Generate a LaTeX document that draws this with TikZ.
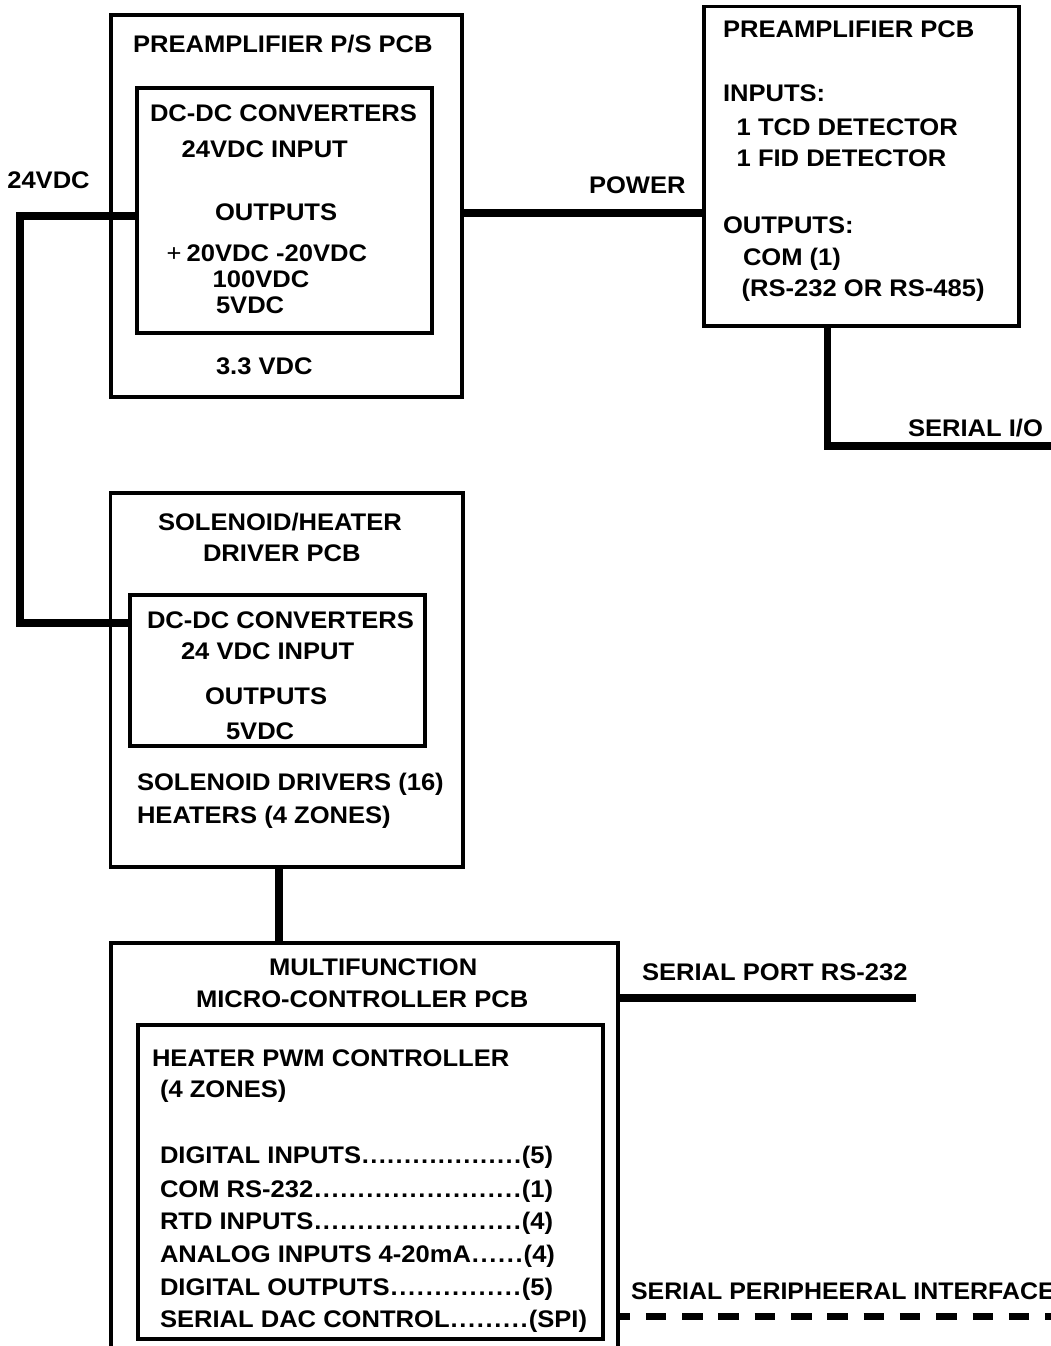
\documentclass[tikz,border=0pt]{standalone}
\usepackage{graphicx}
\usepackage{fontspec}
\setmainfont{Liberation Sans}[FakeStretch=1.065]
\newcommand\fs{\fontsize{24}{28}\selectfont\bfseries}
\newcommand\dotlead{\xleaders\hbox to 8.4pt{\hss.\hss}\hfill}
\tikzset{
  lbl/.style={anchor=base west, inner sep=0pt, outer sep=0pt, font=\fs},
  pcb/.style={draw, line width=3.2pt, inner sep=0pt, outer sep=0pt},
  wire/.style={line width=7.5pt, line join=miter, line cap=butt},
  dashwire/.style={line width=7pt, line cap=butt, dash pattern=on 20.5pt off 15.8pt, dash phase=8.5pt}
}
\begin{document}
\begin{tikzpicture}[x=1pt,y=-1pt]
\useasboundingbox (0,0) rectangle (1051,1346);
% boxes
\node[pcb, minimum width=351pt, minimum height=382pt] (ps) at (286.5,206) {};
\node[pcb, minimum width=295pt, minimum height=245pt] (psin) at (284.5,210.5) {};
\node[pcb, minimum width=315pt, minimum height=319.5pt] (pre) at (861.5,166.25) {};
\node[pcb, minimum width=352.5pt, minimum height=374pt] (sol) at (286.75,680) {};
\node[pcb, minimum width=295pt, minimum height=151pt] (solin) at (277.5,670.5) {};
\node[pcb, minimum width=507pt, minimum height=457pt] (mf) at (364.5,1171.5) {};
\node[pcb, minimum width=465pt, minimum height=314pt] (mfin) at (370.5,1182) {};
% coordinates
\coordinate (vtop) at (20,216);
\coordinate (vbot) at (20,623);
\coordinate (pwr) at (0,213);
\coordinate (sio) at (827.5,446);
\coordinate (sioend) at (1060,446);
\coordinate (mftop) at (279,943);
\coordinate (spend) at (916,998);
\coordinate (spiend) at (1060,1316);
% wires
\draw[wire] (vtop -| psin.west) -- (vtop) -- (vbot) -- (vbot -| solin.west);
\draw[wire] (pwr -| ps.east) -- (pwr -| pre.west);
\draw[wire] (pre.south -| sio) -- (sio) -- (sioend);
\draw[wire] (sol.south -| mftop) -- (mf.north -| mftop);
\draw[wire] (spend -| mf.east) -- (spend);
\draw[dashwire] (spiend -| mf.east) -- (spiend);
% texts: preamp P/S
\node[lbl] (t1) at (133,52.3) {PREAMPLIFIER P/S PCB};
\node[lbl] (t2) at (150,121.7) {DC-DC CONVERTERS};
\node[lbl] (t3) at (181.7,157) {24VDC INPUT};
\node[lbl] (t4) at (215,220.7) {OUTPUTS};
\node[lbl] (t5) at (166.7,261.7) {{\mdseries+}\kern5pt 20VDC -20VDC};
\node[lbl] (t6) at (212.7,287) {100VDC};
\node[lbl] (t7) at (216,313) {5VDC};
\node[lbl] (t8) at (216,374) {3.3 VDC};
\node[lbl] (t9) at (7.3,188) {24VDC};
\node[lbl] (t10) at (589,193.3) {POWER};
% preamp
\node[lbl] (p1) at (723,37.3) {PREAMPLIFIER PCB};
\node[lbl] (p2) at (723,101.7) {INPUTS:};
\node[lbl] (p3) at (736.7,135) {1 TCD DETECTOR};
\node[lbl] (p4) at (736.7,166.7) {1 FID DETECTOR};
\node[lbl] (p5) at (723,233) {OUTPUTS:};
\node[lbl] (p6) at (743,265) {COM (1)};
\node[lbl] (p7) at (741.7,296.7) {(RS-232 OR RS-485)};
\node[lbl] (p8) at (908,436) {SERIAL I/O};
% solenoid
\node[lbl] (s1) at (158,530) {SOLENOID/HEATER};
\node[lbl] (s2) at (203,561.7) {DRIVER PCB};
\node[lbl] (s3) at (147,628) {DC-DC CONVERTERS};
\node[lbl] (s4) at (181,659) {24 VDC INPUT};
\node[lbl] (s5) at (205,704) {OUTPUTS};
\node[lbl] (s6) at (226,739) {5VDC};
\node[lbl] (s7) at (137,790.7) {SOLENOID DRIVERS (16)};
\node[lbl] (s8) at (137,823) {HEATERS (4 ZONES)};
% multifunction
\node[lbl] (m1) at (269,975.6) {MULTIFUNCTION};
\node[lbl] (m2) at (196,1007.7) {MICRO-CONTROLLER PCB};
\node[lbl] (m3) at (152,1066.5) {HEATER PWM CONTROLLER};
\node[lbl] (m4) at (160,1097) {(4 ZONES)};
\node[lbl] (m5) at (160,1163.5) {\makebox[393pt][l]{DIGITAL INPUTS\dotlead(5)}};
\node[lbl] (m6) at (160,1197) {\makebox[393pt][l]{COM RS-232\dotlead(1)}};
\node[lbl] (m7) at (160,1229.7) {\makebox[393pt][l]{RTD INPUTS\dotlead(4)}};
\node[lbl] (m8) at (160,1262.5) {\makebox[395pt][l]{ANALOG INPUTS 4-20mA\dotlead(4)}};
\node[lbl] (m9) at (160,1295) {\makebox[393pt][l]{DIGITAL OUTPUTS\dotlead(5)}};
\node[lbl] (m10) at (160,1327) {\makebox[427pt][l]{SERIAL DAC CONTROL\dotlead(SPI)}};
\node[lbl] (m11) at (642,980) {SERIAL PORT RS-232};
\node[lbl] (m12) at (631,1299) {\scalebox{0.975}[1]{SERIAL PERIPHEERAL INTERFACE}};
\end{tikzpicture}
\end{document}
